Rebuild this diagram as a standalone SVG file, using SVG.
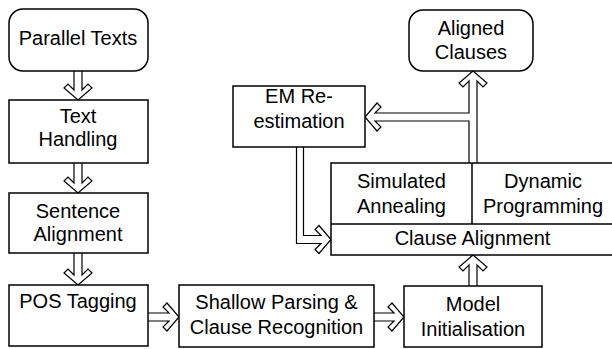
<svg xmlns="http://www.w3.org/2000/svg" width="612" height="349" viewBox="0 0 612 349">
  <style>
    .box { fill: #ffffff; stroke: #000000; stroke-width: 1.5; }
    .rule { stroke: #000000; stroke-width: 1.5; }
    .lbl { font-family: "Liberation Sans", Arial, sans-serif; font-size: 20px; fill: #000000; text-anchor: middle; }
    .arrow { fill: none; stroke: #000000; stroke-width: 1.2; stroke-linejoin: miter; }
  </style>

  <!-- hollow block arrows: two-line shaft ending in an outlined chevron head -->
  <g id="connectors">
    <path class="arrow" d="M 74,71 V 90 L 68,84 L 64,88 L 78,100 L 92,88 L 88,84 L 82,90 V 71"/>
    <path class="arrow" d="M 74,163 V 183 L 68,177 L 64,181 L 78,193 L 92,181 L 88,177 L 82,183 V 163"/>
    <path class="arrow" d="M 74,253 V 275 L 68,269 L 64,273 L 78,285 L 92,273 L 88,269 L 82,275 V 253"/>
    <path class="arrow" d="M 148,313 H 169 L 163,307 L 167,303 L 179,317 L 167,331 L 163,327 L 169,321 H 148"/>
    <path class="arrow" d="M 374,313 H 394 L 388,307 L 392,303 L 404,317 L 392,331 L 388,327 L 394,321 H 374"/>
    <path class="arrow" d="M 469,286 V 265 L 463,271 L 459,267 L 473,255 L 487,267 L 483,271 L 477,265 V 286"/>
    <!-- output arrow with a branch back to re-estimation -->
    <path class="arrow" d="M 469,163 V 121 H 375 L 381,127 L 377,131 L 365,117 L 377,103 L 381,107 L 375,113 H 469 V 81 L 463,87 L 459,83 L 473,71 L 487,83 L 483,87 L 477,81 V 163"/>
    <path class="arrow" d="M 296.5,147 V 243.5 H 321 L 315,249.5 L 319,253.5 L 331,239.5 L 319,225.5 L 315,229.5 L 321,235.5 H 303.5 V 147"/>
  </g>

  <g id="parallel-texts">
    <rect class="box" x="9" y="9" width="139" height="62" rx="14"/>
    <text class="lbl" x="78" y="45">Parallel Texts</text>
  </g>
  <g id="text-handling">
    <rect class="box" x="9" y="100" width="139" height="63"/>
    <text class="lbl" x="78" y="123">Text</text>
    <text class="lbl" x="78" y="146">Handling</text>
  </g>
  <g id="sentence-alignment">
    <rect class="box" x="9" y="193" width="139" height="60"/>
    <text class="lbl" x="78" y="218">Sentence</text>
    <text class="lbl" x="78" y="241">Alignment</text>
  </g>
  <g id="pos-tagging">
    <rect class="box" x="9" y="285" width="139" height="61"/>
    <text class="lbl" x="78" y="308">POS Tagging</text>
  </g>
  <g id="shallow-parsing">
    <rect class="box" x="179" y="285" width="195" height="62"/>
    <text class="lbl" x="276.5" y="309">Shallow Parsing &amp;</text>
    <text class="lbl" x="276.5" y="334">Clause Recognition</text>
  </g>
  <g id="model-initialisation">
    <rect class="box" x="404" y="286" width="138" height="61"/>
    <text class="lbl" x="473" y="311">Model</text>
    <text class="lbl" x="473" y="336">Initialisation</text>
  </g>
  <g id="clause-alignment">
    <rect class="box" x="331" y="163" width="284" height="92"/>
    <line class="rule" x1="331" y1="224" x2="615" y2="224"/>
    <line class="rule" x1="472" y1="163" x2="472" y2="224"/>
    <text class="lbl" x="401.5" y="188">Simulated</text>
    <text class="lbl" x="401.5" y="213">Annealing</text>
    <text class="lbl" x="543" y="188">Dynamic</text>
    <text class="lbl" x="543" y="213">Programming</text>
    <text class="lbl" x="472.5" y="245">Clause Alignment</text>
  </g>
  <g id="em-reestimation">
    <rect class="box" x="233" y="86" width="132" height="61"/>
    <text class="lbl" x="299" y="103">EM Re-</text>
    <text class="lbl" x="299" y="128">estimation</text>
  </g>
  <g id="aligned-clauses">
    <rect class="box" x="409" y="10" width="124" height="61" rx="14"/>
    <text class="lbl" x="471" y="35">Aligned</text>
    <text class="lbl" x="471" y="59">Clauses</text>
  </g>
</svg>
